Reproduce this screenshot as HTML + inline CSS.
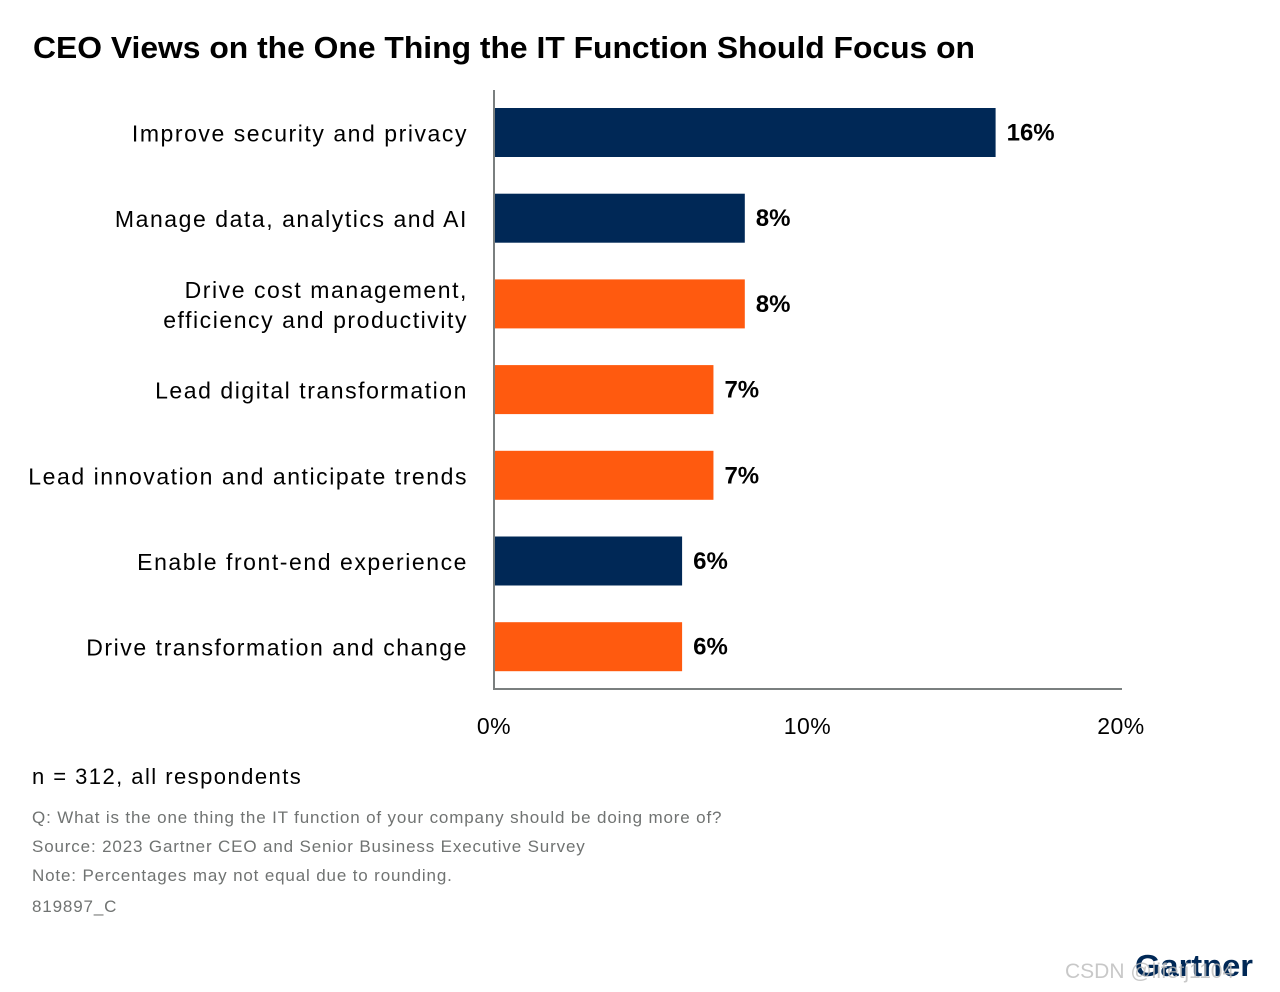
<!DOCTYPE html>
<html><head><meta charset="utf-8"><style>
html,body{margin:0;padding:0;background:#fff;}
svg{display:block;font-family:"Liberation Sans",sans-serif;}
</style></head><body>
<svg id="chart" width="1280" height="992" viewBox="0 0 1280 992">
<text x="33" y="58" font-size="31" font-weight="bold" fill="#000" textLength="942" lengthAdjust="spacingAndGlyphs">CEO Views on the One Thing the IT Function Should Focus on</text>
<g id="bars"></g>
<line x1="494" y1="90" x2="494" y2="689" stroke="#7a7f7f" stroke-width="2"/>
<line x1="493" y1="689" x2="1122" y2="689" stroke="#7a7f7f" stroke-width="2"/>
<g id="ticks"></g>
<text x="32" y="784" font-size="22" fill="#000" letter-spacing="1.45">n = 312, all respondents</text>
<g font-size="17" fill="#707372" letter-spacing="0.85">
<text x="32" y="823">Q: What is the one thing the IT function of your company should be doing more of?</text>
<text x="32" y="852">Source: 2023 Gartner CEO and Senior Business Executive Survey</text>
<text x="32" y="881">Note: Percentages may not equal due to rounding.</text>
<text x="32" y="912">819897_C</text>
</g>
<text x="1135" y="976" font-size="31" font-weight="bold" fill="#002856" textLength="118" lengthAdjust="spacingAndGlyphs">Gartner</text>
<text x="1065" y="978" font-size="21" fill="#bbb" opacity="0.8">CSDN @lifetj1104</text>
</svg>
<script>
const categories = [["Improve security and privacy"],["Manage data, analytics and AI"],["Drive cost management,","efficiency and productivity"],["Lead digital transformation"],["Lead innovation and anticipate trends"],["Enable front-end experience"],["Drive transformation and change"]];
const values = [16, 8, 8, 7, 7, 6, 6];
const valueLabels = ["16%","8%","8%","7%","7%","6%","6%"];
const highlight = [false, false, true, true, true, false, true];
const tickValues = [0, 10, 20];
const tickLabels = ["0%","10%","20%"];

const NS = "http://www.w3.org/2000/svg";
const x = v => 494 + v * 31.35;
const bandTop = i => 108 + i * 85.7;
const barH = 49;
const bars = document.getElementById('bars');
function mk(tag, attrs, parent){const e=document.createElementNS(NS,tag);for(const k in attrs)e.setAttribute(k,attrs[k]);parent.appendChild(e);return e;}
values.forEach((v,i)=>{
  const y = bandTop(i);
  const r = mk('rect',{x:x(0),y:y,width:x(v)-x(0),height:barH,fill:highlight[i]?'#ff5a0f':'#002856'},bars);
  
  
  const t = mk('text',{x:x(v)+11,y:y+barH/2+8,'font-size':24,'font-weight':'bold',fill:'#000'},bars);
  t.textContent = valueLabels[i];
  
  
  const lines = categories[i];
  lines.forEach((ln,j)=>{
    const cy = y + barH/2 + 9 + (j - (lines.length-1)/2) * 30;
    const c = mk('text',{x:468,y:cy,'font-size':23,'text-anchor':'end',fill:'#000','letter-spacing':'1.55'},bars);
    c.textContent = ln;
    
    
  });
});
const ticks = document.getElementById('ticks');
tickValues.forEach((v,i)=>{
  const t = mk('text',{x:x(v),y:734,'font-size':23,'text-anchor':'middle',fill:'#000','letter-spacing':'0.5'},ticks);
  t.textContent = tickLabels[i];
  
  
});
</script>
</body></html>
